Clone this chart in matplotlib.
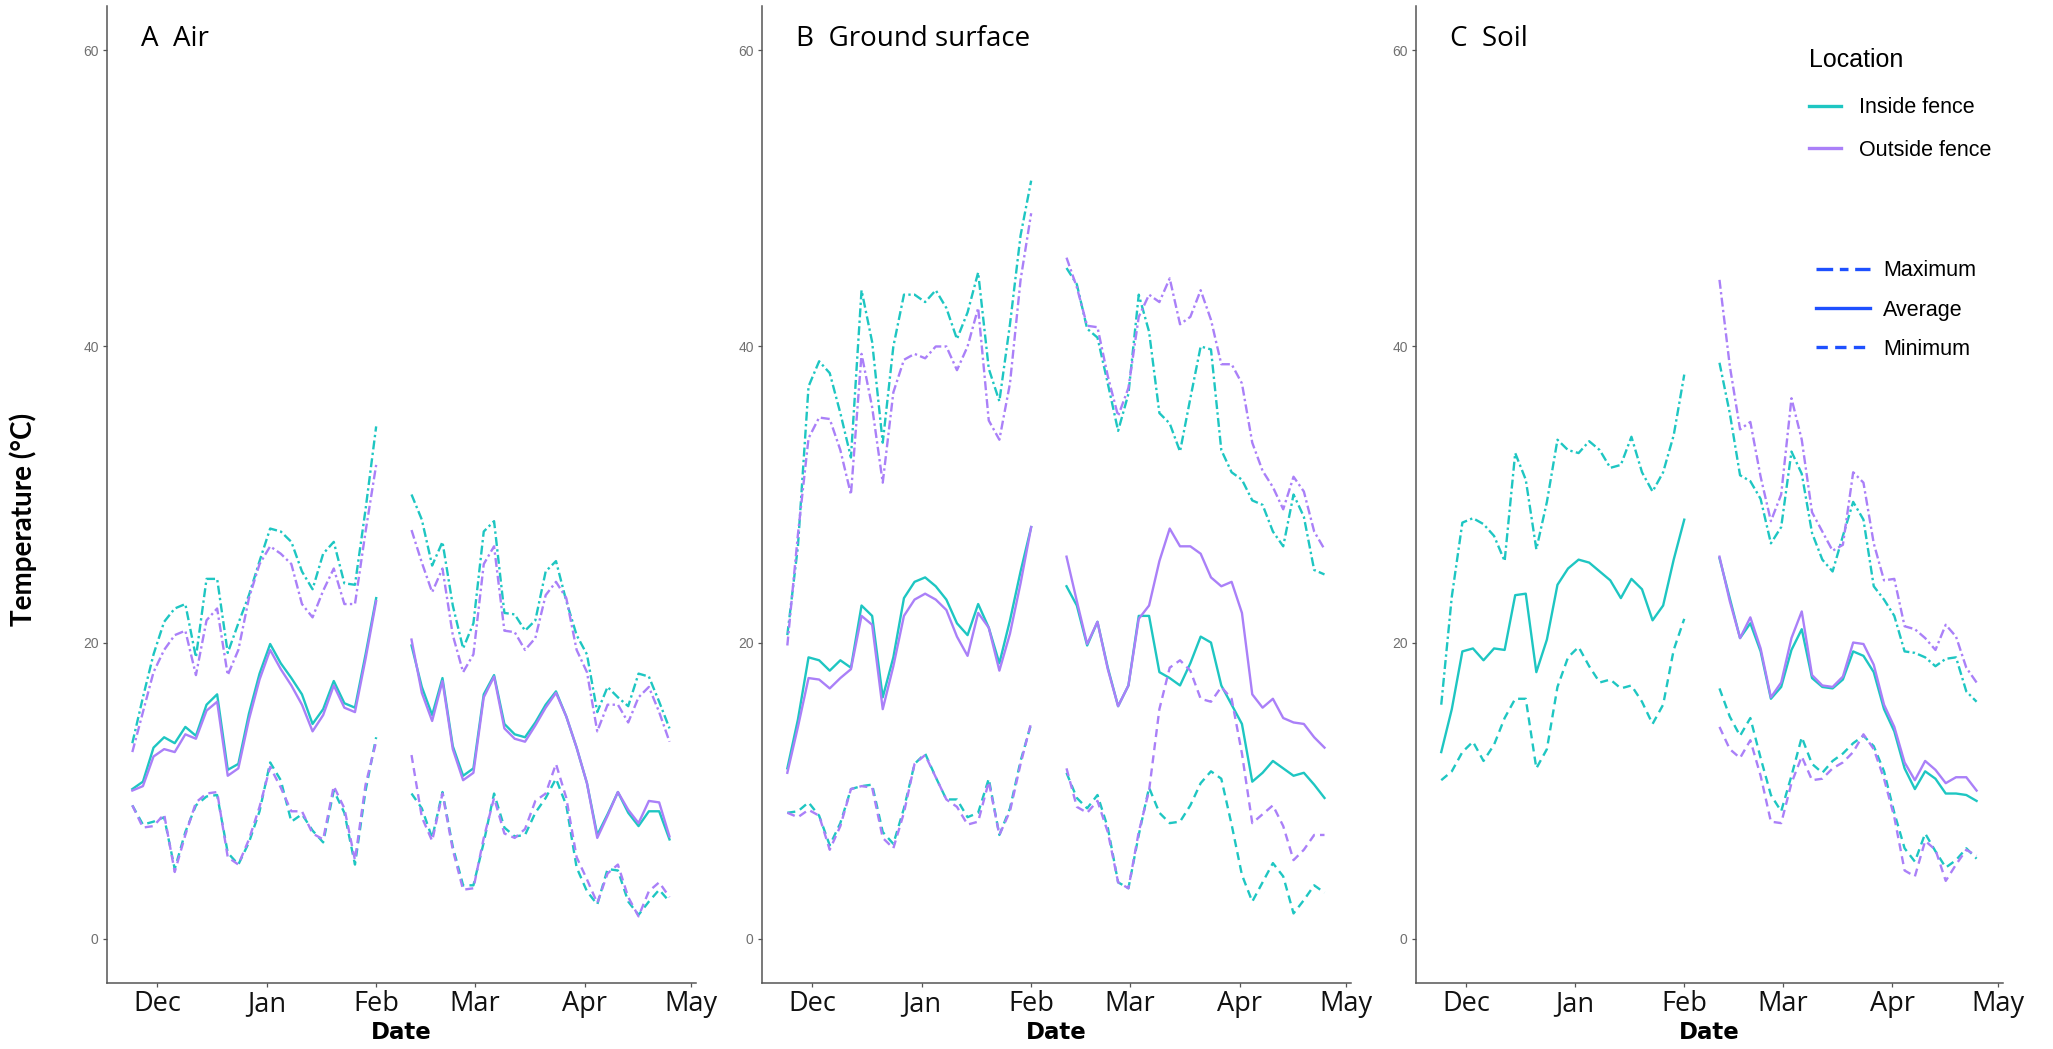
import matplotlib
matplotlib.use("Agg")
import matplotlib.pyplot as plt
from matplotlib.lines import Line2D
import pandas as pd

# ---- sampling dates (two logging periods with a gap in early February) ----
dates_1 = pd.date_range("2018-11-24", "2019-02-01", periods=24)
dates_2 = pd.date_range("2019-02-11", "2019-04-25", periods=26)

month_ticks = pd.date_range("2018-12-01", "2019-05-01", freq="MS")
month_labels = ["Dec", "Jan", "Feb", "Mar", "Apr", "May"]

panel_titles = ["A  Air", "B  Ground surface", "C  Soil"]
locations = ["Inside fence", "Outside fence"]
statistics = ["Maximum", "Average", "Minimum"]

# ---- A: air temperature (°C) ----
air_in_max_1 = [13.2, 16.3, 19.2, 21.4, 22.3, 22.6, 19.0, 24.3, 24.3, 19.3, 21.3, 23.2,
                25.5, 27.7, 27.5, 26.8, 24.8, 23.6, 26.0, 26.8, 24.0, 23.9, 29.0, 34.6]
air_out_max_1 = [12.6, 15.3, 18.0, 19.5, 20.5, 20.8, 17.8, 21.5, 22.3, 17.8, 19.5, 23.0,
                 25.3, 26.5, 26.0, 25.3, 22.6, 21.7, 23.5, 25.0, 22.6, 22.6, 27.5, 32.0]
air_in_avg_1 = [10.1, 10.6, 12.9, 13.6, 13.2, 14.3, 13.7, 15.8, 16.5, 11.4, 11.8, 15.2,
                17.9, 19.9, 18.6, 17.6, 16.5, 14.5, 15.5, 17.4, 15.9, 15.6, 19.2, 23.0]
air_out_avg_1 = [10.0, 10.3, 12.3, 12.8, 12.6, 13.8, 13.5, 15.4, 16.0, 11.0, 11.5, 14.8,
                 17.5, 19.5, 18.2, 17.1, 15.8, 14.0, 15.1, 17.1, 15.6, 15.3, 18.9, 22.8]
air_in_min_1 = [9.0, 7.7, 7.9, 8.2, 4.7, 7.2, 9.0, 9.6, 9.7, 5.8, 5.0, 6.5,
                8.6, 11.9, 10.7, 7.9, 8.4, 7.3, 6.5, 10.0, 8.5, 5.0, 10.0, 13.6]
air_out_min_1 = [9.0, 7.5, 7.6, 8.4, 4.5, 7.0, 9.2, 9.8, 9.9, 5.5, 5.0, 6.7,
                 8.9, 11.6, 10.2, 8.6, 8.6, 7.1, 6.7, 10.3, 8.8, 5.3, 10.4, 13.3]

air_in_max_2 = [30.0, 28.3, 25.2, 26.8, 22.5, 19.6, 21.3, 27.5, 28.2, 22.0, 21.9, 20.8, 21.5,
                24.8, 25.5, 22.8, 20.5, 19.2, 15.3, 17.0, 16.3, 15.7, 17.9, 17.7, 16.0, 14.2]
air_out_max_2 = [27.6, 25.4, 23.4, 25.0, 20.5, 18.0, 19.2, 25.3, 26.5, 20.8, 20.7, 19.5, 20.3,
                 23.2, 24.1, 23.0, 19.5, 18.0, 14.0, 15.8, 15.8, 14.6, 16.3, 17.0, 15.3, 13.3]
air_in_avg_2 = [19.8, 17.0, 15.1, 17.6, 13.0, 11.0, 11.5, 16.5, 17.8, 14.5, 13.8, 13.6, 14.6,
                15.8, 16.7, 15.0, 12.9, 10.5, 7.0, 8.4, 9.9, 8.5, 7.6, 8.6, 8.6, 6.7]
air_out_avg_2 = [20.2, 16.6, 14.7, 17.4, 12.8, 10.7, 11.2, 16.3, 17.7, 14.2, 13.5, 13.3, 14.4,
                 15.6, 16.6, 15.0, 12.9, 10.5, 6.8, 8.3, 9.9, 8.7, 7.8, 9.3, 9.2, 6.9]
air_in_min_2 = [9.8, 8.8, 6.8, 9.9, 6.2, 3.6, 3.6, 6.5, 9.8, 7.5, 6.9, 7.0, 8.5,
                9.5, 10.8, 9.0, 4.8, 3.2, 2.3, 4.7, 4.6, 2.5, 1.6, 2.5, 3.3, 2.5]
air_out_min_2 = [12.4, 8.2, 6.6, 9.8, 6.0, 3.3, 3.4, 6.8, 9.5, 7.1, 6.8, 7.4, 9.3,
                 9.8, 11.8, 9.5, 5.5, 4.0, 2.4, 4.4, 5.0, 2.8, 1.5, 3.2, 3.8, 2.8]

# ---- B: ground surface temperature (°C) ----
ground_in_max_1 = [20.5, 26.5, 37.3, 39.0, 38.2, 35.5, 32.5, 43.8, 40.3, 33.5, 40.0, 43.5,
                   43.5, 43.0, 43.8, 42.6, 40.5, 42.3, 45.0, 38.5, 36.3, 41.5, 47.5, 51.2]
ground_out_max_1 = [19.8, 27.3, 33.8, 35.2, 35.1, 33.0, 30.0, 39.5, 35.9, 30.8, 36.9, 39.1,
                    39.5, 39.2, 40.0, 40.0, 38.4, 40.0, 42.6, 35.0, 33.7, 37.5, 44.5, 49.0]
ground_in_avg_1 = [11.5, 14.8, 19.0, 18.8, 18.1, 18.8, 18.3, 22.5, 21.8, 16.3, 19.0, 23.0,
                   24.1, 24.4, 23.8, 22.9, 21.3, 20.5, 22.6, 21.0, 18.6, 21.5, 24.8, 27.8]
ground_out_avg_1 = [11.2, 14.3, 17.6, 17.5, 16.9, 17.6, 18.2, 21.8, 21.2, 15.5, 18.4, 21.8,
                    22.9, 23.3, 22.9, 22.2, 20.4, 19.1, 22.0, 21.0, 18.1, 20.6, 24.0, 27.8]
ground_in_min_1 = [8.5, 8.6, 9.2, 8.3, 6.3, 7.8, 10.1, 10.3, 10.4, 7.2, 6.4, 8.8,
                   11.8, 12.5, 10.9, 9.4, 9.4, 8.2, 8.5, 10.8, 7.0, 8.8, 12.0, 14.5]
ground_out_min_1 = [8.5, 8.2, 8.7, 8.3, 6.0, 7.6, 10.1, 10.3, 10.2, 6.8, 6.1, 8.5,
                    11.8, 12.4, 10.9, 9.4, 8.9, 7.7, 7.9, 10.6, 7.0, 8.6, 11.8, 14.6]

ground_in_max_2 = [45.3, 44.2, 41.2, 40.6, 37.5, 34.3, 36.8, 43.5, 41.0, 35.5, 34.8, 32.9, 36.5,
                   40.0, 39.8, 33.0, 31.5, 31.0, 29.6, 29.3, 27.5, 26.5, 30.0, 28.5, 24.9, 24.6]
ground_out_max_2 = [46.0, 44.0, 41.4, 41.3, 38.0, 35.3, 37.2, 42.0, 43.5, 43.0, 44.6, 41.5, 42.0,
                    43.8, 41.8, 38.8, 38.8, 37.5, 33.5, 31.6, 30.5, 29.0, 31.2, 30.2, 27.5, 26.3]
ground_in_avg_2 = [23.8, 22.5, 19.8, 21.4, 18.3, 15.7, 17.1, 21.8, 21.8, 18.0, 17.6, 17.1, 18.6,
                   20.4, 20.0, 17.1, 15.8, 14.5, 10.6, 11.2, 12.0, 11.5, 11.0, 11.2, 10.4, 9.5]
ground_out_avg_2 = [25.8, 22.8, 19.9, 21.4, 18.2, 15.7, 17.1, 21.6, 22.5, 25.5, 27.7, 26.5, 26.5,
                    26.0, 24.4, 23.8, 24.1, 22.0, 16.5, 15.6, 16.2, 14.9, 14.6, 14.5, 13.6, 12.9]
ground_in_min_2 = [11.2, 9.5, 8.8, 9.7, 7.5, 3.8, 3.4, 7.0, 10.2, 8.5, 7.8, 7.9, 9.0,
                   10.5, 11.3, 10.8, 7.7, 4.3, 2.5, 3.8, 5.1, 4.2, 1.7, 2.6, 3.6, 3.1]
ground_out_min_2 = [11.5, 8.9, 8.5, 9.3, 7.2, 3.8, 3.4, 7.2, 10.0, 15.5, 18.3, 18.8, 18.1,
                    16.2, 16.0, 17.0, 16.2, 12.5, 7.8, 8.4, 9.0, 7.6, 5.3, 6.0, 7.0, 7.0]

# ---- C: soil temperature (°C); no outside-fence record before the gap ----
soil_in_max_1 = [15.8, 23.1, 28.1, 28.4, 28.0, 27.2, 25.5, 32.8, 31.0, 26.3, 29.5, 33.7,
                 33.0, 32.8, 33.6, 33.0, 31.8, 32.0, 33.9, 31.5, 30.2, 31.5, 34.0, 38.1]
soil_in_avg_1 = [12.6, 15.5, 19.4, 19.6, 18.8, 19.6, 19.5, 23.2, 23.3, 18.0, 20.2, 23.9,
                 25.0, 25.6, 25.4, 24.8, 24.2, 23.0, 24.3, 23.6, 21.5, 22.5, 25.6, 28.3]
soil_in_min_1 = [10.7, 11.3, 12.6, 13.3, 12.0, 13.1, 14.9, 16.2, 16.2, 11.5, 12.8, 17.0,
                 19.0, 19.7, 18.4, 17.3, 17.5, 16.9, 17.1, 16.0, 14.5, 15.8, 19.5, 21.6]

soil_in_max_2 = [38.9, 35.5, 31.3, 30.9, 29.7, 26.7, 27.8, 32.9, 31.4, 27.4, 25.6, 24.8, 27.2,
                 29.5, 28.3, 23.8, 22.9, 21.8, 19.4, 19.3, 19.0, 18.4, 18.9, 19.0, 16.7, 16.0]
soil_out_max_2 = [44.5, 38.7, 34.4, 34.9, 31.2, 28.2, 30.0, 36.5, 33.7, 28.8, 27.5, 26.2, 26.6,
                  31.5, 30.8, 26.7, 24.2, 24.3, 21.1, 20.9, 20.3, 19.5, 21.2, 20.4, 18.3, 17.3]
soil_in_avg_2 = [25.7, 23.0, 20.3, 21.3, 19.4, 16.2, 17.0, 19.5, 20.9, 17.6, 17.0, 16.9, 17.5,
                 19.4, 19.1, 18.0, 15.5, 14.0, 11.5, 10.1, 11.3, 10.8, 9.8, 9.8, 9.7, 9.3]
soil_out_avg_2 = [25.8, 22.8, 20.3, 21.7, 19.6, 16.3, 17.3, 20.3, 22.1, 17.8, 17.1, 17.0, 17.7,
                  20.0, 19.9, 18.5, 15.8, 14.3, 11.9, 10.7, 12.0, 11.4, 10.5, 10.9, 10.9, 10.0]
soil_in_min_2 = [16.9, 15.0, 13.7, 14.9, 12.2, 9.7, 8.6, 11.0, 13.6, 11.8, 11.2, 12.0, 12.5,
                 13.2, 13.7, 13.0, 11.3, 8.5, 6.1, 5.2, 7.1, 5.9, 4.8, 5.3, 6.1, 5.4]
soil_out_min_2 = [14.3, 12.8, 12.2, 13.4, 11.0, 7.9, 7.8, 10.5, 12.3, 10.7, 10.8, 11.5, 11.9,
                  12.6, 13.8, 12.8, 10.8, 8.2, 4.6, 4.2, 6.6, 6.0, 3.9, 5.0, 6.0, 5.6]

# ---- styling ----
loc_colors = {"Inside fence": "#1EC6C2", "Outside fence": "#AA80F8"}
stat_dashes = {"Maximum": (3.8, 1.4, 1.0, 1.4), "Average": None, "Minimum": (3.4, 2.2)}
legend_blue = "#1E50FF"

panels = [
    {  # Air
        ("Inside fence", "Maximum"): [air_in_max_1, air_in_max_2],
        ("Outside fence", "Maximum"): [air_out_max_1, air_out_max_2],
        ("Inside fence", "Average"): [air_in_avg_1, air_in_avg_2],
        ("Outside fence", "Average"): [air_out_avg_1, air_out_avg_2],
        ("Inside fence", "Minimum"): [air_in_min_1, air_in_min_2],
        ("Outside fence", "Minimum"): [air_out_min_1, air_out_min_2],
    },
    {  # Ground surface
        ("Inside fence", "Maximum"): [ground_in_max_1, ground_in_max_2],
        ("Outside fence", "Maximum"): [ground_out_max_1, ground_out_max_2],
        ("Inside fence", "Average"): [ground_in_avg_1, ground_in_avg_2],
        ("Outside fence", "Average"): [ground_out_avg_1, ground_out_avg_2],
        ("Inside fence", "Minimum"): [ground_in_min_1, ground_in_min_2],
        ("Outside fence", "Minimum"): [ground_out_min_1, ground_out_min_2],
    },
    {  # Soil
        ("Inside fence", "Maximum"): [soil_in_max_1, soil_in_max_2],
        ("Outside fence", "Maximum"): [None, soil_out_max_2],
        ("Inside fence", "Average"): [soil_in_avg_1, soil_in_avg_2],
        ("Outside fence", "Average"): [None, soil_out_avg_2],
        ("Inside fence", "Minimum"): [soil_in_min_1, soil_in_min_2],
        ("Outside fence", "Minimum"): [None, soil_out_min_2],
    },
]

W, H = 2053, 1049
fig = plt.figure(figsize=(W / 100, H / 100), dpi=100)

# axes boxes in pixels: left, right; shared top and bottom
ax_px = [(107, 696), (762, 1351), (1416, 2003)]
top_px, bottom_px = 6, 983

xmin = pd.Timestamp("2018-11-16 20:00")
xmax = pd.Timestamp("2019-05-02 12:00")

axes = []
for i, (l, r) in enumerate(ax_px):
    ax = fig.add_axes([l / W, 1 - bottom_px / H, (r - l) / W, (bottom_px - top_px) / H])
    axes.append(ax)
    series = panels[i]
    for loc in locations:
        for stat in statistics:
            for dates, vals in zip([dates_1, dates_2], series[(loc, stat)]):
                if vals is None:
                    continue
                line, = ax.plot(dates, vals, color=loc_colors[loc], lw=1.7,
                                solid_joinstyle="round", dash_joinstyle="round")
                if stat_dashes[stat] is not None:
                    line.set_dashes(stat_dashes[stat])

    ax.set_xlim(xmin, xmax)
    ax.set_ylim(-3, 63)
    ax.set_yticks([0, 20, 40, 60])
    ax.set_xticks(month_ticks)
    ax.set_xticklabels(month_labels)
    for side in ["top", "right"]:
        ax.spines[side].set_visible(False)
    for side in ["left", "bottom"]:
        ax.spines[side].set_color("#555555")
        ax.spines[side].set_linewidth(1.1)
    ax.tick_params(axis="y", labelsize=10, labelcolor="#707070", color="#555555",
                   length=3, width=0.9, pad=3)
    ax.tick_params(axis="x", labelsize=19.5, labelcolor="#111111", color="#555555",
                   length=3, width=0.9, pad=2)
    for lab in ax.get_xticklabels():
        lab.set_fontfamily("Open Sans")
    for lab in ax.get_yticklabels():
        lab.set_fontfamily("Liberation Sans")
    ax.set_xlabel("Date", fontsize=16.5, fontweight="bold", family="DejaVu Sans")
    ax.xaxis.set_label_coords(0.5, -0.039)
    ax.text(0.058, 0.966, panel_titles[i], transform=ax.transAxes, fontsize=20,
            family="Open Sans", va="center", ha="left")

axes[0].set_ylabel("Temperature (°C)", fontsize=20, fontweight="bold", family="Lato")
axes[0].yaxis.set_label_coords(-0.118, 0.474)

# colour legend (location)
loc_handles = [Line2D([], [], color=loc_colors[n], lw=2.4) for n in locations]
leg1 = axes[2].legend(loc_handles, locations, title="Location", frameon=False,
                      loc="upper left", bbox_to_anchor=(1790 / W, 1 - 29 / H),
                      bbox_transform=fig.transFigure,
                      handlelength=1.45, handletextpad=0.85, labelspacing=1.0,
                      alignment="left", prop={"family": "Liberation Sans", "size": 15.5})
leg1.get_title().set_fontfamily("Liberation Sans")
leg1.get_title().set_fontsize(18)
leg1._legend_box.sep = 18
axes[2].add_artist(leg1)

# line-type legend (statistic)
stat_handles = []
for n in statistics:
    h = Line2D([], [], color=legend_blue, lw=2.4)
    if n == "Maximum":
        h.set_dashes((5, 2, 2.6, 2))
    elif n == "Minimum":
        h.set_dashes((3.4, 2.2))
    stat_handles.append(h)
leg2 = axes[2].legend(stat_handles, statistics, frameon=False, loc="upper left",
                      bbox_to_anchor=(1797 / W, 1 - 241 / H),
                      bbox_transform=fig.transFigure,
                      handlelength=2.5, handletextpad=0.6, labelspacing=0.85,
                      prop={"family": "Liberation Sans", "size": 15.5})

fig.savefig("out.png", dpi=100)
